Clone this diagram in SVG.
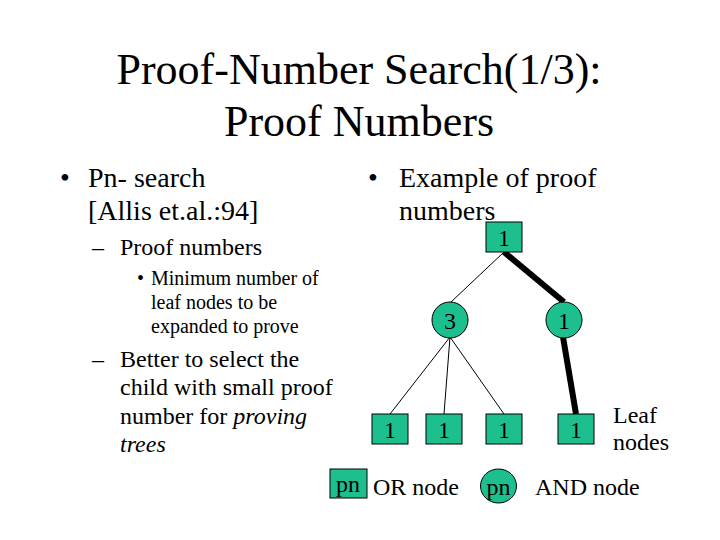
<svg xmlns="http://www.w3.org/2000/svg" width="720" height="540" viewBox="0 0 720 540">
<style>
text{fill:#000}
.t{font-size:44px;text-anchor:middle}
.l1{font-size:28px}
.l2{font-size:24px}
.l3{font-size:20px}
.n{font-size:24px;text-anchor:middle}
.box,.circ{fill:#1DBF8F;stroke:#000;stroke-width:1}
.thin{stroke:#000;stroke-width:1;fill:none}
.thick{stroke:#000;stroke-width:6;fill:none}
</style>
<rect width="720" height="540" fill="#fff"/>
<g font-family="'Liberation Serif', 'DejaVu Serif', serif">
<g id="title">
<text class="t" x="359" y="84">Proof-Number Search(1/3):</text>
<text class="t" x="359" y="136">Proof Numbers</text>
</g>
<g id="left-text">
<text class="l1" x="60" y="187">•</text>
<text class="l1" x="88" y="187">Pn- search</text>
<text class="l1" x="88" y="220">[Allis et.al.:94]</text>
<text class="l2" x="92" y="255">–</text>
<text class="l2" x="120" y="255">Proof numbers</text>
<text class="l3" x="137" y="285">•</text>
<text class="l3" x="151" y="285">Minimum number of</text>
<text class="l3" x="151" y="309">leaf nodes to be</text>
<text class="l3" x="151" y="333">expanded to prove</text>
<text class="l2" x="92" y="367">–</text>
<text class="l2" x="120" y="367">Better to select the</text>
<text class="l2" x="120" y="395">child with small proof</text>
<text class="l2" x="120" y="424">number for <tspan font-style="italic">proving</tspan></text>
<text class="l2" x="120" y="452" font-style="italic">trees</text>
</g>
<g id="right-text">
<text class="l1" x="368" y="187">•</text>
<text class="l1" x="399" y="187">Example of proof</text>
<text class="l1" x="399" y="220">numbers</text>
</g>
<g id="connectors">
<line class="thin" x1="504" y1="252" x2="451" y2="302"/>
<line class="thick" x1="504" y1="252" x2="564" y2="302"/>
<line class="thin" x1="450" y1="337" x2="390" y2="414"/>
<line class="thin" x1="450" y1="337" x2="444" y2="414"/>
<line class="thin" x1="450" y1="337" x2="504" y2="414"/>
<line class="thick" x1="563" y1="337" x2="576" y2="414"/>
</g>
<g id="root"><rect class="box" x="486" y="222" width="36" height="30"/><text class="n" x="504" y="246">1</text></g>
<g id="and1"><circle class="circ" cx="450" cy="320" r="18"/><text class="n" x="450" y="329">3</text></g>
<g id="and2"><circle class="circ" cx="564" cy="320" r="18"/><text class="n" x="564" y="329">1</text></g>
<g id="leaf1"><rect class="box" x="372" y="414" width="36" height="30"/><text class="n" x="390" y="438">1</text></g>
<g id="leaf2"><rect class="box" x="426" y="414" width="36" height="30"/><text class="n" x="444" y="438">1</text></g>
<g id="leaf3"><rect class="box" x="486" y="414" width="36" height="30"/><text class="n" x="504" y="438">1</text></g>
<g id="leaf4"><rect class="box" x="558" y="414" width="36" height="30"/><text class="n" x="576" y="438">1</text></g>
<g id="leaf-label">
<text class="l2" x="613" y="423">Leaf</text>
<text class="l2" x="613" y="450">nodes</text>
</g>
<g id="legend-or"><rect class="box" x="330" y="469" width="37" height="29"/><text class="n" x="348" y="492">pn</text><text class="l2" x="373" y="495">OR node</text></g>
<g id="legend-and"><ellipse class="circ" cx="498.5" cy="486" rx="18" ry="17"/><text class="n" x="498.5" y="495">pn</text><text class="l2" x="535" y="495">AND node</text></g>
</g>
</svg>
